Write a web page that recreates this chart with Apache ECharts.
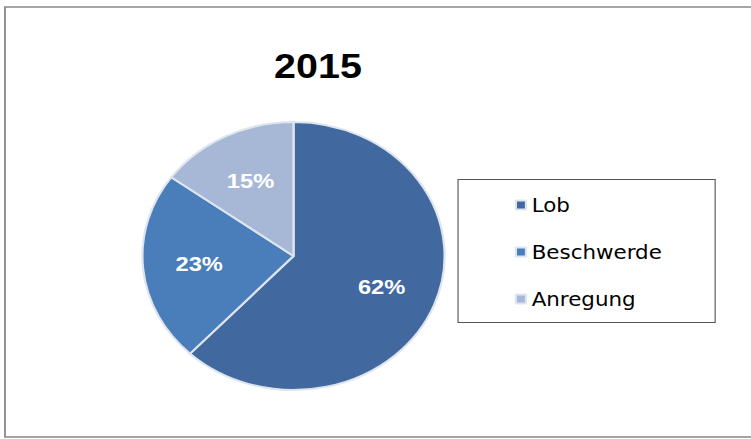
<!DOCTYPE html>
<html>
<head>
<meta charset="utf-8">
<script src="https://cdn.jsdelivr.net/npm/echarts@6.0.0/dist/echarts.min.js"></script>
<style>
	html, body { margin: 0; padding: 0; background: #fff; overflow: hidden; }
	/* the source picture is stretched sideways, so the chart is drawn narrower and scaled */
	#main-echart { width: 666px; height: 439px; transform: scaleX(1.1276); transform-origin: 0 0; }
</style>
</head>
<body>
<div id="main-echart"></div>
<script>
const title = '2015';
const categories = ['Lob', 'Beschwerde', 'Anregung'];
const shares = [62, 23, 15];

try {
	let myChart = echarts.init(document.getElementById('main-echart'), null, { renderer: 'svg' });
	const pie_data = categories.map((name, i) => ({ name: name, value: shares[i] }));

	let option = {
		animation: false,
		color: ['#41689f', '#4a7ebb', '#a7b8d7'],
		title: {
			text: title,
			left: 277,
			textAlign: 'center',
			top: 43,
			textStyle: { fontFamily: 'Liberation Sans', fontSize: 35, fontWeight: 'bold', color: '#000' }
		},
		legend: {
			data: categories,
			orient: 'vertical',
			left: 456.5,
			top: 195.5,
			padding: 0,
			icon: 'rect',
			itemWidth: 9,
			itemHeight: 9,
			itemGap: 28,
			selectedMode: false,
			textStyle: { fontFamily: 'DejaVu Sans', fontSize: 19, color: '#000' }
		},
		graphic: [
			{
				type: 'rect',
				silent: true,
				shape: { x: 4.4, y: 7, width: 700, height: 430 },
				style: { fill: 'none', stroke: '#888', lineWidth: 1.6 }
			},
			{
				type: 'rect',
				silent: true,
				shape: { x: 406.2, y: 179.5, width: 228, height: 143 },
				style: { fill: 'none', stroke: '#555', lineWidth: 1 }
			}
		],
		series: [
			{
				type: 'pie',
				center: [260.3, 256],
				radius: 134,
				startAngle: 90,
				clockwise: true,
				silent: true,
				label: { show: false },
				labelLine: { show: false },
				itemStyle: { borderColor: '#dfe5ee', borderWidth: 2 },
				data: pie_data
			},
			{
				// invisible copy, only used to place the percent labels further out
				type: 'pie',
				center: [260.3, 256],
				radius: 162,
				startAngle: 90,
				clockwise: true,
				silent: true,
				percentPrecision: 0,
				itemStyle: { color: 'rgba(0,0,0,0)' },
				label: {
					show: true,
					position: 'inside',
					formatter: '{d}%',
					color: '#fff',
					fontFamily: 'Liberation Sans',
					fontWeight: 'bold',
					fontSize: 21
				},
				labelLine: { show: false },
				data: pie_data
			}
		]
	};

	myChart.setOption(option);
} catch (e) {
	console.log(e);
}
</script>
</body>
</html>
